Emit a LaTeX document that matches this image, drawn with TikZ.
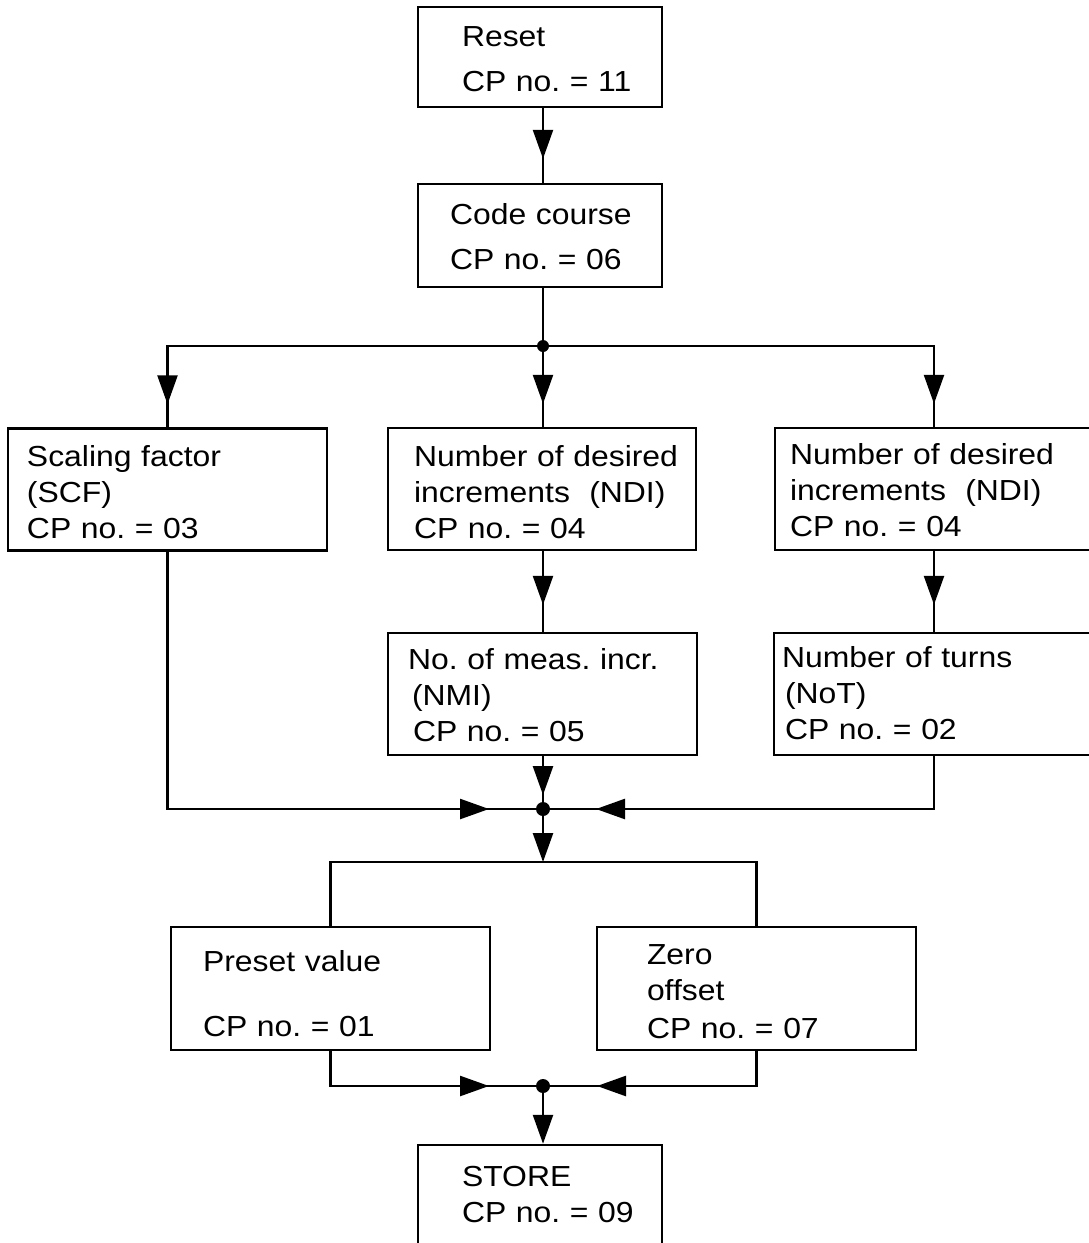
\documentclass[tikz,border=0pt]{standalone}
\usepackage{fontspec}
\newfontfamily\boxfont{Liberation Sans}[FakeStretch=1.1]
\usetikzlibrary{arrows.meta,decorations.markings}
\tikzset{
  box/.style={draw, line width=2.5pt, rectangle, align=left, inner sep=2pt,
    minimum height=122pt, text height=27pt, font=\boxfont\fontsize{29}{36}\selectfont\frenchspacing,
    execute at begin node={\leftskip=\dimexpr#1-2pt\relax}},
  wire/.style={line width=2.5pt},
  tipat/.style={decoration={markings,
      mark=at position #1 with {\arrow{Triangle[length=29pt,width=20pt]}}},
    postaction={decorate}},
  tipend/.style={-{Triangle[length=29pt,width=20pt]}}
}

\begin{document}
\begin{tikzpicture}[x=1pt,y=-1pt]
		%%%%% START %%%%%
		\useasboundingbox (0,0) rectangle (1088,1243);
		
		\coordinate (j1) at (543,346);
		\coordinate (j2) at (543,809);
		\coordinate (br) at (543,862);
		\coordinate (j3) at (543,1086);
		
		\node[box=44pt, minimum height=100pt, text height=25pt, text width=240pt] (reset) at (540,57) {Reset\\[9pt]CP no. = 11};
		\node[box=32pt, minimum height=103pt, text height=24pt, text width=240pt] (code) at (540,235.5) {Code course\\[9pt]CP no. = 06};
		
		\node[box=19pt, text width=315pt] (sf) at (167.5,489.5) {Scaling factor\\(SCF)\\CP no. = 03};
		\node[box=26pt, text height=28pt, text width=304pt] (ndia) at (542,489) {Number of desired\\increments\ \ (NDI)\\CP no. = 04};
		\node[box=15pt, text height=24pt, text width=314pt] (ndib) at (934,489) {Number of desired\\increments\ \ (NDI)\\CP no. = 04};
		
		\node[box=20pt, text height=24pt, text width=305pt] (nmi) at (542.5,694) {No. of meas. incr.\\\hspace*{4pt}(NMI)\\\hspace*{5pt}CP no. = 05};
		\node[box=8pt, text height=20pt, text width=316pt] (nt) at (934,694) {Number of turns\\\hspace*{3pt}(NoT)\\\hspace*{3pt}CP no. = 02};
		
		\node[box=32pt, minimum height=123pt, text height=32pt, text width=315pt] (pv) at (330.5,988.5) {Preset value\\[29pt]CP no. = 01};
		\node[box=50pt, minimum height=123pt, text width=315pt] (zo) at (756.5,988.5) {Zero\\offset\\[2pt]CP no. = 07};
		
		\node[box=44pt, minimum height=105pt, text height=15pt, text width=240pt] (store) at (540,1197.5) {STORE\\CP no. = 09};
		
		% top column
		\draw[wire, tipat=-24pt] (reset.south -| j1) -- (code.north -| j1);
		\draw[wire] (code.south -| j1) -- (j1);
		
		% first fork
		\draw[wire, tipat=-23pt] (j1) -| (sf.north);
		\draw[wire, tipat=-23pt] (j1) -- (ndia.north -| j1);
		\draw[wire, tipat=-23pt] (j1) -| (ndib.north);
		
		\draw[wire, tipat=-27pt] (ndia.south -| j1) -- (nmi.north -| j1);
		\draw[wire, tipat=-27pt] (ndib.south) -- (nt.north);
		
		% join
		\draw[wire, tipat=-14pt] (nmi.south -| j2) -- (j2);
		\draw[wire, tipat=-54pt] (sf.south) |- (j2);
		\draw[wire, tipat=-53pt] (nt.south) |- (j2);
		
		% second fork
		\draw[wire, tipend] (j2) -- (br);
		\draw[wire] (pv.north) |- (br) -| (zo.north);
		
		\draw[wire, tipat=-54pt] (pv.south) |- (j3);
		\draw[wire, tipat=-54pt] (zo.south) |- (j3);
		\draw[wire, tipend] (j3) -- (store.north -| j3);
		
		\fill (j1) circle (6pt);
		\fill (j2) circle (7pt);
		\fill (j3) circle (7pt);
		%%%%% END %%%%%
\end{tikzpicture}
\end{document}
